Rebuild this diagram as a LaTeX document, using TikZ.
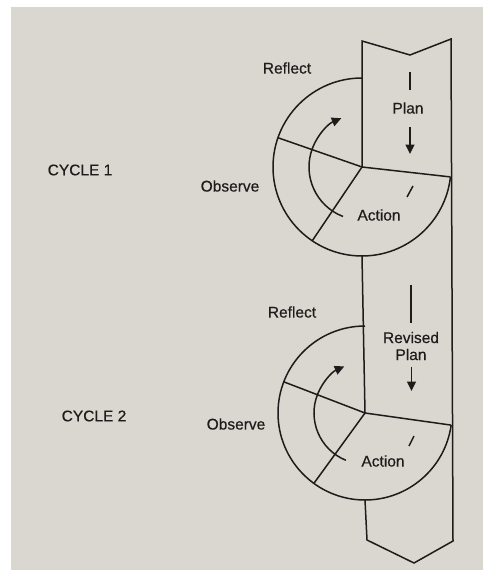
\documentclass[tikz,border=0pt]{standalone}
\usepackage{fontspec}
\setmainfont{Liberation Sans}
\newfontfamily\lblfont{Liberation Sans}[BoldFont={Liberation Sans},BoldFeatures={FakeBold=0.4}]
\usetikzlibrary{arrows.meta,calc}
\definecolor{page}{RGB}{218,215,208}
\definecolor{ink}{RGB}{30,28,27}
\begin{document}
\begin{tikzpicture}[x=1pt,y=1pt,
  line/.style={draw=ink,line width=1.5pt,line join=miter},
  lbl/.style={text=ink,font=\lblfont\bfseries\fontsize{15.5}{17}\selectfont,inner sep=0pt,align=center},
  tip/.style={-{Triangle[length=9.5pt,width=9pt]}}]
\useasboundingbox (0,0) rectangle (483,-570);
\fill[white] (0,0) rectangle (483,-570);
\fill[page] (11,-7) rectangle (483,-570);
% key points
\coordinate (H1) at (362,-167);
\coordinate (H2) at (365,-413);
\coordinate (TL) at (362,-41);
\coordinate (TN) at (410,-55);
\coordinate (TR) at (451,-39);
\coordinate (BR) at (453,-541);
\coordinate (BN) at (414,-563);
\coordinate (BL) at (367,-540);
\coordinate (R1) at ($(H1)+(-6.4:89)$);
\coordinate (R2) at ($(H2)+(-8:87)$);
\coordinate (B1) at ($(H1)+(270:89)$);
\coordinate (B2) at ($(H2)+(270:87)$);
% strip outline
\draw[line] (B2) -- (BL) -- (BN) -- (BR) -- (TR) -- (TN) -- (TL) -- (H1);
\draw[line] (B1) -- (H2);
% cycle 1 ring
\draw[line] ($(H1)+(90:89)$) arc[start angle=90,end angle=353.6,radius=89];
\draw[line] (H1) -- (R1);
\draw[line] (H1) -- ($(H1)+(160.8:89)$);
\draw[line] (H1) -- ($(H1)+(236:89)$);
\draw[line,tip] ($(H1)+(249:53)$) arc[start angle=249,end angle=113,radius=53];
% cycle 2 ring
\draw[line] ($(H2)+(90:87)$) arc[start angle=90,end angle=352,radius=87];
\draw[line] (H2) -- (R2);
\draw[line] (H2) -- ($(H2)+(159:87)$);
\draw[line] (H2) -- ($(H2)+(234:87)$);
\draw[line,tip] ($(H2)+(248:51)$) arc[start angle=248,end angle=114,radius=51];
% plan marks cycle 1
\coordinate (d1a) at (410,-72);
\coordinate (d1b) at (410,-90);
\coordinate (a1a) at (410,-127);
\coordinate (a1b) at (410,-154);
\coordinate (s1a) at (407,-197);
\coordinate (s1b) at (413,-186);
\draw[line] (d1a) -- (d1b);
\draw[line,tip] (a1a) -- (a1b);
\draw[line] (s1a) -- (s1b);
% plan marks cycle 2
\coordinate (d2a) at (411,-285);
\coordinate (d2b) at (411,-323);
\coordinate (a2a) at (411.5,-367);
\coordinate (a2b) at (411.5,-391);
\coordinate (s2a) at (409,-446);
\coordinate (s2b) at (414,-436);
\draw[line] (d2a) -- (d2b);
\draw[line,tip] (a2a) -- (a2b);
\draw[line] (s2a) -- (s2b);
% labels
\node[lbl] (reflect1) at (287,-68) {Reflect};
\node[lbl] (plan1) at (408,-108) {Plan};
\node[lbl] (observe1) at (230,-186) {Observe};
\node[lbl] (cycle1) at (80,-170) {CYCLE 1};
\node[lbl] (action1) at (379,-215) {Action};
\node[lbl] (reflect2) at (292,-312) {Reflect};
\node[lbl] (plan2) at (411,-346) {Revised\\Plan};
\node[lbl] (observe2) at (236,-424) {Observe};
\node[lbl] (cycle2) at (94,-416) {CYCLE 2};
\node[lbl] (action2) at (383,-461) {Action};
\end{tikzpicture}
\end{document}
